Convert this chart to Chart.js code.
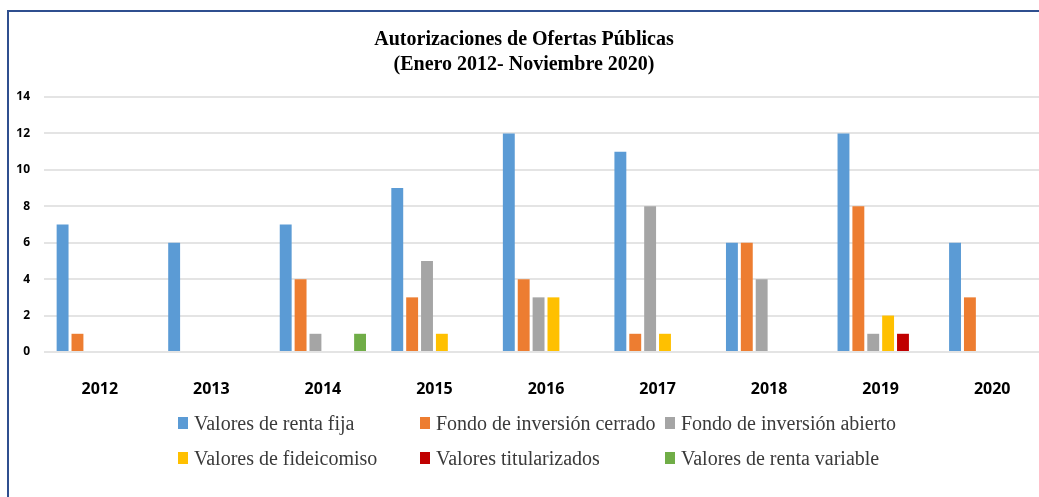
<!DOCTYPE html>
<html>
<head>
<meta charset="utf-8">
<script src="https://cdn.jsdelivr.net/npm/chart.js@4"></script>
<style>
  html, body { margin: 0; padding: 0; background: #fff; overflow: hidden; width: 1039px; height: 497px; }
  #frame { position: absolute; left: 7px; top: 10px; width: 1100px; height: 600px;
           border-left: 2px solid #2f4f8f; border-top: 2px solid #2f4f8f; }
  #wrap { position: absolute; left: 0; top: 0; width: 1062px; height: 497px; }
  #legend { position: absolute; left: 0; top: 0; width: 1039px; height: 497px; pointer-events: none;
            font-family: "Liberation Serif", "Times New Roman", serif; font-size: 20px; color: #3a3a3a; }
  .item { position: absolute; white-space: nowrap; display: flex; align-items: center; height: 24px; }
  .box { width: 10px; height: 12px; margin-right: 6px; display: inline-block; }
</style>
</head>
<body>
<div id="frame"></div>
<div id="wrap"><canvas id="c"></canvas></div>
<div id="legend"></div>
<script>
const categories = ['2012','2013','2014','2015','2016','2017','2018','2019','2020'];
const seriesNames = ['Valores de renta fija','Fondo de inversión cerrado','Fondo de inversión abierto',
                     'Valores de fideicomiso','Valores titularizados','Valores de renta variable'];
const rentaFija      = [7, 6, 7, 9, 12, 11, 6, 12, 6];
const fondoCerrado   = [1, 0, 4, 3, 4, 1, 6, 8, 3];
const fondoAbierto   = [0, 0, 1, 5, 3, 8, 4, 1, 0];
const fideicomiso    = [0, 0, 0, 1, 3, 1, 0, 2, 0];
const titularizados  = [0, 0, 0, 0, 0, 0, 0, 1, 0];
const rentaVariable  = [0, 0, 1, 0, 0, 0, 0, 0, 0];
const yTicks = [0, 2, 4, 6, 8, 10, 12, 14];
const colors = ['#5b9bd5','#ed7d31','#a5a5a5','#ffc000','#c00000','#70ad47'];
const seriesValues = [rentaFija, fondoCerrado, fondoAbierto, fideicomiso, titularizados, rentaVariable];

const datasets = seriesNames.map((n, i) => ({
  label: n,
  data: seriesValues[i],
  backgroundColor: colors[i],
  borderWidth: 0,
  categoryPercentage: 0.8,
  barPercentage: 0.8
}));

const chart = new Chart(document.getElementById('c'), {
  type: 'bar',
  data: { labels: categories, datasets },
  options: {
    responsive: true,
    maintainAspectRatio: false,
    animation: false,
    layout: { padding: { left: 0, right: 14, top: 0, bottom: 93 } },
    plugins: {
      legend: { display: false },
      tooltip: { enabled: false },
      title: {
        display: true,
        text: ['Autorizaciones de Ofertas Públicas', '(Enero 2012- Noviembre 2020)'],
        color: '#000',
        font: { family: '"Liberation Serif", "Times New Roman", serif', size: 20, weight: 'bold', lineHeight: 1.25 },
        padding: { top: 27, bottom: 20 }
      }
    },
    scales: {
      x: {
        grid: { display: false },
        border: { display: false },
        ticks: { color: '#000', font: { family: '"Open Sans", sans-serif', size: 16, weight: 'bold' }, padding: 20 },
        afterFit: s => { s.height = 52; }
      },
      y: {
        min: 0, max: 14,
        afterBuildTicks: s => { s.ticks = yTicks.map(v => ({ value: v })); },
        grid: { color: '#e4e4e4', lineWidth: 2, drawTicks: false },
        border: { display: false },
        ticks: { color: '#000', font: { family: '"Open Sans", sans-serif', size: 12, weight: 'bold' }, padding: 14 },
        afterFit: s => { s.width = 44; }
      }
    }
  }
});

// Legend built from the chart's datasets, arranged in three columns like the reference
const legendEl = document.getElementById('legend');
const colX = [178, 420, 665];
const rowY = [411, 446];
chart.data.datasets.forEach((ds, i) => {
  const it = document.createElement('div');
  it.className = 'item';
  it.style.left = colX[i % 3] + 'px';
  it.style.top = rowY[Math.floor(i / 3)] + 'px';
  const b = document.createElement('span');
  b.className = 'box';
  b.style.background = ds.backgroundColor;
  const t = document.createElement('span');
  t.textContent = ds.label;
  it.appendChild(b); it.appendChild(t);
  legendEl.appendChild(it);
});
</script>
</body>
</html>
